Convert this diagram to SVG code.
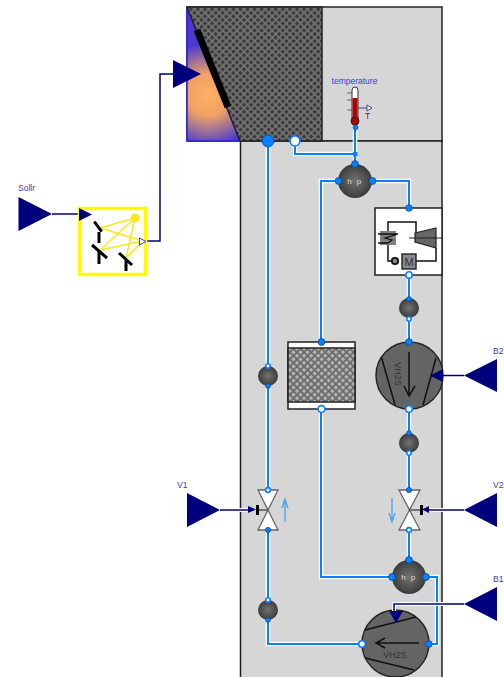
<svg xmlns="http://www.w3.org/2000/svg" width="504" height="677" viewBox="0 0 504 677">
<style>
text{font-family:"Liberation Sans",Arial,sans-serif}
.lbl{font-size:8.500px;fill:#3a3ae0}
.lbl2{font-size:8.500px;fill:#3a3ac0}
.halo{fill:none;stroke:#fff;stroke-width:4.500}
.pipe{fill:none;stroke:#0a80ff;stroke-width:2}
.sigh{fill:none;stroke:#fff;stroke-width:4}
.sig{fill:none;stroke:#00007f;stroke-width:1.500}
.tri{fill:#00007f}
.pb{fill:#0a80ff;stroke:#004a9c;stroke-width:.8}
.pw{fill:#fff;stroke:#0a80ff;stroke-width:1.600}
.wall{fill:#d6d6d6;stroke:#222;stroke-width:1.500}
.k{fill:none;stroke:#111;stroke-width:1.500}
.y{fill:none;stroke:#ffe71a;stroke-width:1.600}
.s{fill:none;stroke:#000;stroke-width:3}
.fan{fill:#646464;stroke:#222;stroke-width:1.400}
.vol{fill:url(#v)}
.valve{fill:#fff;stroke:#666;stroke-width:1.300}
.flow{fill:none;stroke:#4aa0f0;stroke-width:1.300}
</style>
<defs>
<pattern id="hd" width="5" height="5" patternUnits="userSpaceOnUse" patternTransform="rotate(45)"><rect width="5" height="5" fill="#727272"/><rect width="3.200" height="3.200" fill="#3a3a3a"/></pattern>
<pattern id="hg" width="5" height="5" patternUnits="userSpaceOnUse" patternTransform="rotate(45)"><rect width="5" height="5" fill="#6a6a6a"/><rect width="3.200" height="3.200" fill="#b4b4b4"/></pattern>
<radialGradient id="v"><stop offset="0" stop-color="#727272"/><stop offset=".75" stop-color="#4a4a4a"/><stop offset="1" stop-color="#3a3a3a"/></radialGradient>
<radialGradient id="sun" gradientUnits="userSpaceOnUse" cx="208" cy="95" r="52"><stop offset="0" stop-color="#ffae62"/><stop offset=".4" stop-color="#f0a264"/><stop offset=".75" stop-color="#8f68a0"/><stop offset="1" stop-color="#4a38d0"/></radialGradient>
</defs>
<g id="building">
<rect class="wall" x="187" y="7" width="255" height="134"/>
<rect class="wall" x="240.500" y="141" width="201.500" height="540"/>
<polygon points="187,7 240,141 187,141" fill="url(#sun)" stroke="#2a20e0" stroke-width="1.500"/>
<polygon points="187,7 322,7 322,141 240,141" fill="url(#hd)" stroke="#222" stroke-width="1.500"/>
<line x1="197" y1="30" x2="228" y2="107" stroke="#000" stroke-width="7"/>
</g>
<g id="connectors">
<path class="halo" d="M268 141V490M268 530V600M268 620V644H362"/>
<path class="pipe" d="M268 141V490M268 530V600M268 620V644H362"/>
<path class="halo" d="M295 141V154H355M355 127V164M338 181H321V342M372 181H409V208M409 275V298M409 319V342M409 409V433M409 453V490M409 530V560M392 577H321V409M426 577H437V644H429"/>
<path class="pipe" d="M295 141V154H355M355 127V164M338 181H321V342M372 181H409V208M409 275V298M409 319V342M409 409V433M409 453V490M409 530V560M392 577H321V409M426 577H437V644H429"/>
<rect x="353" y="152" width="4.500" height="4.500" fill="#0a80ff"/>
<path class="sig" d="M52 214H79"/>
<path class="sig" d="M146 241H160V74H173"/>
</g>
<g id="Sollr">
<text class="lbl2" x="18" y="191">Sollr</text>
<polygon class="tri" points="18.500,197 52,214 18.500,231"/>
</g>
<g id="solar">
<rect x="79.500" y="208.500" width="66" height="66" fill="none" stroke="#ffff00" stroke-width="3.500"/>
<path class="y" d="M135 218L100 228M135 218L100 250M135 218L126 258M143 241L100 228M143 241L100 250M143 241L126 258"/>
<circle cx="135" cy="218" r="4.500" fill="#ffe71a"/>
<polygon class="tri" points="79,208 92,214.500 79,221"/>
<polygon points="139.500,238 146,241.500 139.500,245" fill="#fff" stroke="#3a3ab0"/>
<path class="s" d="M94.300 221.700L101.700 231.700M99 232V243M92 245L107 258M99 252V264M119 253L132 265M126 259V271"/>
</g>
<g id="temperature">
<text class="lbl" x="354.500" y="84" text-anchor="middle">temperature</text>
<path d="M347 93H352M347 100H352M347 110H352" stroke="#666" fill="none"/>
<path d="M352 106V90Q352 87 355 87Q358 87 358 90V118H352Z" fill="#fff" stroke="#333"/>
<rect x="352.500" y="98" width="5" height="22" fill="#b00000"/>
<circle cx="355" cy="121" r="4" fill="#b00000" stroke="#222"/>
<path d="M358 108H367" stroke="#40409a"/>
<polygon points="367,105 372,108 367,111" fill="#fff" stroke="#40409a"/>
<text x="367.500" y="119" font-size="8.500" fill="#333" text-anchor="middle">T</text>
<circle class="pb" cx="355.500" cy="127.500" r="2.400"/>
</g>
<g id="hp1">
<circle class="vol" cx="355" cy="181" r="17"/>
<text x="355" y="184" font-size="8" fill="#ddd" text-anchor="middle" letter-spacing="1.500">h p</text>
<circle class="pb" cx="355" cy="164" r="3.400"/><circle class="pb" cx="338.500" cy="181" r="3.400"/><circle class="pb" cx="372.500" cy="181" r="3.400"/>
</g>
<g id="boiler">
<rect x="375" y="208" width="67" height="67" fill="#fff" stroke="#222" stroke-width="1.500"/>
<path class="k" d="M416 233V222H388V261H392M416 261H436V248"/>
<polygon points="415,233 436,228 436,248 415,242" fill="#666" stroke="#222" stroke-width="1.200"/>
<line x1="409" y1="238" x2="442" y2="238" stroke="#222" stroke-width="1"/>
<rect x="380" y="231" width="16" height="14" fill="#808080"/>
<path d="M378 234H398L385 238L392 240L388 243H378" fill="none" stroke="#111" stroke-width="1.300"/>
<circle cx="395" cy="261" r="3.200" fill="#888" stroke="#111" stroke-width="1.800"/>
<rect x="402" y="254" width="14" height="15" fill="#8a8a8a" stroke="#222" stroke-width="1.400"/>
<text x="409" y="266" font-size="11" fill="#333" text-anchor="middle">M</text>
<circle class="pb" cx="409" cy="208" r="3.300"/><circle class="pw" cx="409" cy="275" r="3.200"/>
</g>
<g id="vol1">
<circle class="vol" cx="409" cy="308" r="10"/>
<circle class="pb" cx="409" cy="299" r="2.400"/><circle class="pw" cx="409" cy="319" r="2.200"/>
</g>
<g id="fan1">
<circle class="fan" cx="409.500" cy="375.500" r="33.500"/>
<path class="k" d="M381.700 358L395 405M436 358L423 405"/>
<path class="k" d="M409 352V396M404 386L409 396L415 386"/>
<text transform="translate(395 374) rotate(90)" font-size="9" fill="#333" text-anchor="middle">VH2S</text>
<circle class="pb" cx="409" cy="342" r="3.300"/><circle class="pw" cx="409" cy="409" r="3.300"/>
</g>
<g id="B2">
<text class="lbl2" x="493" y="354">B2</text>
<polygon class="tri" points="430,375.500 443,369 443,382"/>
<path class="sig" d="M443 375.500H464"/>
<polygon class="tri" points="464,375.500 497,359 497,392"/>
</g>
<g id="vol2">
<circle class="vol" cx="409" cy="443" r="10"/>
<circle class="pb" cx="409" cy="433" r="2.400"/><circle class="pw" cx="409" cy="453" r="2.200"/>
</g>
<g id="hx">
<rect x="288" y="342" width="67" height="67" fill="#fff" stroke="#222" stroke-width="1.500"/>
<rect x="288" y="348" width="67" height="54" fill="url(#hg)" stroke="#222" stroke-width="1.500"/>
<circle class="pb" cx="321.500" cy="342" r="3.400"/><circle class="pw" cx="321.500" cy="409" r="3.400"/>
</g>
<g id="vol3">
<circle class="vol" cx="268" cy="376" r="10"/>
<circle class="pw" cx="268" cy="366" r="2.200"/><circle class="pb" cx="268" cy="386" r="2.400"/>
</g>
<g id="vol4">
<circle class="vol" cx="268" cy="610" r="10"/>
<circle class="pw" cx="268" cy="600" r="2.200"/><circle class="pb" cx="268" cy="620" r="2.400"/>
</g>
<g id="valve1">
<polygon class="valve" points="258,490 278,490 258,530 278,530"/>
<path d="M268 510H258" stroke="#555" stroke-width="1.500"/>
<rect x="256" y="505" width="3" height="10" fill="#000"/>
<path class="flow" d="M285 522V499M282 508L285 499L288 508"/>
<circle class="pw" cx="268" cy="490" r="2.400"/><circle class="pb" cx="268" cy="530" r="2.600"/>
</g>
<g id="V1">
<text class="lbl2" x="177" y="488">V1</text>
<polygon class="tri" points="187,493 220,510 187,527"/>
<path class="sigh" d="M220 510H248"/><path class="sig" d="M220 510H248"/>
<polygon class="tri" points="248,506 256,509.500 248,513"/>
</g>
<g id="valve2">
<polygon class="valve" points="399,490 420,490 399,530 420,530"/>
<path d="M409 510H421" stroke="#555" stroke-width="1.500"/>
<rect x="420" y="505" width="3" height="10" fill="#000"/>
<path class="flow" d="M392 498V522M389 513L392 522L395 513"/>
<circle class="pb" cx="409" cy="490" r="2.600"/><circle class="pw" cx="409" cy="530" r="2.400"/>
</g>
<g id="V2">
<text class="lbl2" x="493" y="488">V2</text>
<polygon class="tri" points="464,510 497,493 497,527"/>
<path class="sigh" d="M429 510H464"/><path class="sig" d="M429 510H464"/>
<polygon class="tri" points="422,509.500 429,506 429,513"/>
</g>
<g id="hp2">
<circle class="vol" cx="409" cy="577" r="17"/>
<text x="409" y="580" font-size="8" fill="#ddd" text-anchor="middle" letter-spacing="1.500">h p</text>
<circle class="pb" cx="409" cy="560" r="3.400"/><circle class="pb" cx="392" cy="577" r="3.400"/><circle class="pb" cx="426" cy="577" r="3.400"/>
</g>
<g id="fan2">
<circle class="fan" cx="395.500" cy="643.500" r="33.500"/>
<path class="k" d="M365 630L416 617M365 658L414 670"/>
<path class="k" d="M419 643H376M385 638L376 643L385 648"/>
<text x="395" y="658" font-size="9" fill="#333" text-anchor="middle">VH2S</text>
<circle class="pw" cx="362" cy="644" r="3.300"/><circle class="pb" cx="429" cy="644" r="3.300"/>
</g>
<g id="B1">
<text class="lbl2" x="493" y="582">B1</text>
<path class="sigh" d="M464 604H394V611"/><path class="sig" d="M464 604H394V611"/>
<polygon class="tri" points="389,611 403,611 396,623"/>
<polygon class="tri" points="464,604 497,587 497,621"/>
</g>
<g id="ports">
<circle class="pb" cx="268" cy="141" r="6"/>
<circle class="pw" cx="295" cy="141" r="5"/>
</g>
<g id="solar-in">
<polygon class="tri" points="173,60 201,74 173,88"/>
</g>
</svg>
